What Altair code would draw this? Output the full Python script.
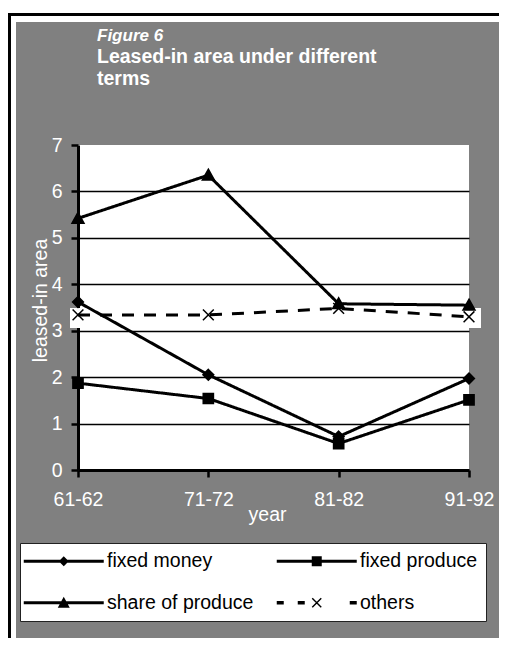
import altair as alt
import pandas as pd

# ---------------- data ----------------
years = ["61-62", "71-72", "81-82", "91-92"]
series_names = ["fixed money", "fixed produce", "share of produce", "others"]
fixed_money = [3.62, 2.05, 0.72, 1.97]
fixed_produce = [1.87, 1.54, 0.57, 1.51]
share_of_produce = [5.42, 6.35, 3.58, 3.55]
others = [3.34, 3.34, 3.48, 3.30]
y_ticks = [0, 1, 2, 3, 4, 5, 6, 7]

rows = []
for name, vals in zip(series_names, [fixed_money, fixed_produce, share_of_produce, others]):
    for yr, v in zip(years, vals):
        rows.append({"year": yr, "series": name, "value": v})
df = pd.DataFrame(rows)
one = pd.DataFrame({"k": [0]})

FONT = "Liberation Sans"
W, H = 391, 325
PAD = {"left": 70, "top": 137, "right": 30, "bottom": 168}
TOTAL_W = PAD["left"] + W + PAD["right"]
TOTAL_H = PAD["top"] + H + PAD["bottom"]

# marker shapes in the plot (custom paths)
plot_shapes = [
    "M0,-0.9L0.9,0L0,0.9L-0.9,0Z",                 # diamond
    "M-0.85,-0.85H0.85V0.85H-0.85Z",               # square
    "M0,-1L1,0.8H-1Z",                              # triangle
    "M-0.9,-0.9L0.9,0.9M-0.9,0.9L0.9,-0.9",         # x
]
# legend symbols: line + marker drawn as one filled path (units of 5 px)
LINE = "M-3,-0.3H13V0.3H-3Z "
XMARK = ("M4.2,-1.0L6.0,0.8L5.8,1.0L4.0,-0.8Z "
         "M4.0,0.8L5.8,-1.0L6.0,-0.8L4.2,1.0Z ")
legend_shapes = [
    LINE + "M5,-1.0L6.0,0L5,1.0L4.0,0Z",
    LINE + "M4.0,-1.0H6.0V1.0H4.0Z",
    LINE + "M5,-1.2L6.2,1.0H3.8Z",
    "M-3,-0.35H-1.6V0.35H-3Z M1.2,-0.35H2.6V0.35H1.2Z " + XMARK + "M11.6,-0.35H13V0.35H11.6Z",
]

x_enc = alt.X(
    "year:O",
    sort=years,
    scale=alt.Scale(type="point", padding=0, domain=years),
    axis=alt.Axis(
        title="year", labelAngle=0, grid=False,
        domainColor="black", domainWidth=3,
        tickColor="black", tickWidth=2.5, tickSize=7,
        labelColor="white", labelFont=FONT, labelFontSize=19.5, labelPadding=13,
        titleColor="white", titleFont=FONT, titleFontSize=19.5, titleFontWeight="normal",
        titleX=189, titleY=35, titleBaseline="top",
    ),
)
y_enc = alt.Y(
    "value:Q",
    scale=alt.Scale(domain=[0, 7], nice=False),
    axis=alt.Axis(
        title="leased-in area", values=y_ticks,
        domainColor="black", domainWidth=3,
        tickColor="black", tickWidth=2.5, tickSize=7,
        labelColor="white", labelFont=FONT, labelFontSize=19.5, labelPadding=9,
        grid=True, gridColor="black", gridWidth=1.5,
        gridOpacity={"condition": {"test": "datum.value >= 7 || datum.value <= 0", "value": 0}, "value": 1},
        titleColor="white", titleFont=FONT, titleFontSize=19.5, titleFontWeight="normal",
        titlePadding=1, titleY=155,
    ),
)

# ---------------- frame decoration ----------------
top_strip = alt.Chart(one).mark_rect(color="white").encode(
    x=alt.value(-PAD["left"]), x2=alt.value(TOTAL_W - PAD["left"]),
    y=alt.value(-PAD["top"]), y2=alt.value(-PAD["top"] + 14),
)
left_strip = alt.Chart(one).mark_rect(color="white").encode(
    x=alt.value(-PAD["left"]), x2=alt.value(-PAD["left"] + 8),
    y=alt.value(-PAD["top"]), y2=alt.value(TOTAL_H - PAD["top"]),
)
top_border = alt.Chart(one).mark_rule(color="black", strokeWidth=3).encode(
    x=alt.value(-PAD["left"]), x2=alt.value(TOTAL_W - PAD["left"]),
    y=alt.value(-PAD["top"] + 6.5),
)
left_border = alt.Chart(one).mark_rule(color="black", strokeWidth=3).encode(
    x=alt.value(-PAD["left"] + 1.5),
    y=alt.value(-PAD["top"] + 5), y2=alt.value(TOTAL_H - PAD["top"]),
)
# white label band behind the "others" series (as in the original export)
band = alt.Chart(one).mark_rect(color="white").encode(
    x=alt.value(-8), x2=alt.value(W + 12),
    y=alt.datum(3.49), y2=alt.datum(3.06),
)

# ---------------- data layers ----------------
lines = alt.Chart(df).mark_line(color="black").encode(
    x=x_enc, y=y_enc,
    detail="series:N",
    strokeDash=alt.StrokeDash("series:N", scale=alt.Scale(domain=series_names, range=[[1, 0], [1, 0], [1, 0], [12, 10]]), legend=None),
    strokeWidth=alt.StrokeWidth("series:N", scale=alt.Scale(domain=series_names, range=[3, 3, 3, 4.5]), legend=None),
)
points = alt.Chart(df).mark_point(filled=True, color="black", stroke="black", strokeWidth=1.5, size=144, opacity=1).encode(
    x=x_enc, y=y_enc,
    shape=alt.Shape("series:N", scale=alt.Scale(domain=series_names, range=plot_shapes), legend=None),
)
legend_layer = alt.Chart(df).mark_point(filled=True, color="black", opacity=0).encode(
    x=x_enc, y=y_enc,
    shape=alt.Shape(
        "series:N",
        scale=alt.Scale(domain=series_names, range=legend_shapes),
        legend=alt.Legend(
            title=None, orient="none", legendX=-58, legendY=398, columns=2, direction="horizontal",
            fillColor="white", strokeColor="#222222", padding=8,
            labelFont=FONT, labelFontSize=19.5, labelColor="black", labelOffset=58.5, labelLimit=400,
            labelExpr="datum.label == 'fixed produce' ? datum.label + '        ' : datum.label",
            symbolSize=100, symbolOffset=1, symbolFillColor="black", symbolStrokeColor="black",
            symbolOpacity=1, rowPadding=21, columnPadding=19,
        ),
    ),
)

chart = alt.layer(
    top_strip, left_strip, top_border, left_border, band, lines, points, legend_layer
).resolve_scale(shape="independent").properties(
    width=W, height=H,
    autosize=alt.AutoSizeParams(type="none"),
    padding=PAD,
    background="#808080",
    title=alt.TitleParams(
        text="Figure 6",
        subtitle=["Leased-in area under different", "terms"],
        anchor="start", frame="group", orient="top", dx=19, offset=-81.6,
        font=FONT, fontSize=17, fontStyle="italic", fontWeight="bold", color="white",
        subtitleFont=FONT, subtitleFontSize=19.5, subtitleFontWeight="bold", subtitleColor="white",
        subtitleLineHeight=22.5, subtitlePadding=2.5,
    ),
).configure_view(fill="white", strokeWidth=0)

chart.save("out.html", embed_options={"renderer": "svg", "actions": False})
